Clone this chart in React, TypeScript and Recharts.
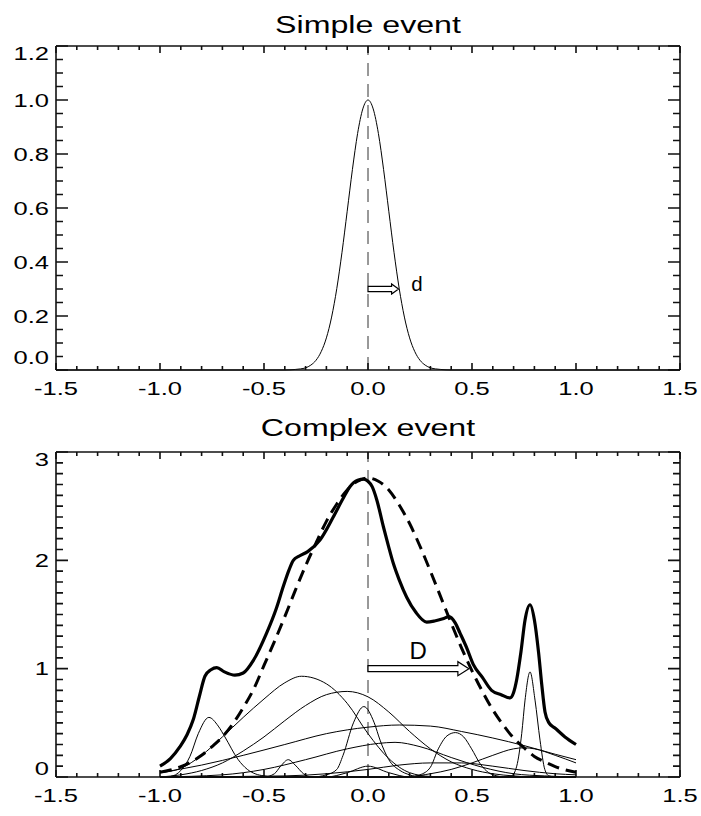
import React from 'react';
import { LineChart, Line, XAxis, YAxis, ReferenceLine, ReferenceDot, Label } from 'recharts';

const FONT = '"Liberation Sans", Arial, Helvetica, sans-serif';
const STRETCH = 1.38; // the original plot was stretched sideways, glyphs included
const INK = '#111';

// ---- shared axis ticks
const xMajor = [-1.5, -1.0, -0.5, 0.0, 0.5, 1.0, 1.5];
const simpleYMajor = [0.0, 0.2, 0.4, 0.6, 0.8, 1.0, 1.2];
const complexYMajor = [0, 1, 2, 3];

// ---- Simple event
const simpleX = [
  -1.5, -0.4, -0.35, -0.325, -0.3, -0.275, -0.25, -0.225, -0.2, -0.175, -0.15, -0.125, -0.1, -0.075, -0.05, -0.025,
  0, 0.025, 0.05, 0.075, 0.1, 0.125, 0.15, 0.175, 0.2, 0.225, 0.25, 0.275, 0.3, 0.325, 0.35, 0.4, 1.5,
];
const simpleY = [
  0, 0, 0.002, 0.004, 0.008, 0.018, 0.036, 0.068, 0.119, 0.196, 0.302, 0.436, 0.588, 0.742, 0.876, 0.967,
  1.0, 0.967, 0.876, 0.742, 0.588, 0.436, 0.302, 0.196, 0.119, 0.068, 0.036, 0.018, 0.008, 0.004, 0.002, 0, 0,
];
const simpleArrow = [{ x: 0, y: 0.3 }, { x: 0.147, y: 0.3 }];
const simpleNote = { x: 0.235, y: 0.32, text: 'd' };

// ---- Complex event
const sumCurve: [number, number][] = [
  [-1.0, 0.1], [-0.95, 0.17], [-0.904, 0.28], [-0.87, 0.39], [-0.84, 0.53], [-0.81, 0.75], [-0.784, 0.93],
  [-0.755, 0.99], [-0.727, 1.01], [-0.69, 0.97], [-0.64, 0.94], [-0.6, 0.96], [-0.55, 1.08], [-0.487, 1.33],
  [-0.44, 1.56], [-0.407, 1.76], [-0.38, 1.91], [-0.359, 2.0], [-0.33, 2.04], [-0.29, 2.08], [-0.23, 2.19],
  [-0.167, 2.4], [-0.12, 2.57], [-0.087, 2.68], [-0.05, 2.74], [-0.02, 2.75], [0.0, 2.73], [0.02, 2.68],
  [0.042, 2.56], [0.074, 2.31], [0.1, 2.12], [0.122, 1.97], [0.15, 1.82], [0.186, 1.66], [0.23, 1.52],
  [0.282, 1.43], [0.32, 1.44], [0.36, 1.46], [0.39, 1.48], [0.42, 1.42], [0.442, 1.33], [0.475, 1.19],
  [0.506, 1.04], [0.55, 0.92], [0.594, 0.8], [0.64, 0.76], [0.683, 0.73], [0.7, 0.78], [0.715, 0.9],
  [0.735, 1.15], [0.755, 1.45], [0.779, 1.59], [0.8, 1.45], [0.82, 1.15], [0.835, 0.86], [0.851, 0.6],
  [0.87, 0.5], [0.9, 0.45], [0.947, 0.37], [1.0, 0.3],
];
const fitCurve: [number, number][] = [
  [-1.0, 0.044], [-0.95, 0.065], [-0.9, 0.096], [-0.85, 0.14], [-0.8, 0.2], [-0.75, 0.28], [-0.7, 0.37],
  [-0.65, 0.49], [-0.6, 0.64], [-0.55, 0.81], [-0.5, 1.03], [-0.45, 1.25], [-0.4, 1.48], [-0.35, 1.72],
  [-0.3, 1.95], [-0.25, 2.16], [-0.2, 2.36], [-0.15, 2.52], [-0.1, 2.65], [-0.05, 2.73], [0.0, 2.76],
  [0.05, 2.73], [0.1, 2.65], [0.15, 2.51], [0.2, 2.34], [0.25, 2.13], [0.3, 1.9], [0.35, 1.66], [0.4, 1.42],
  [0.45, 1.19], [0.5, 0.98], [0.55, 0.79], [0.6, 0.62], [0.65, 0.48], [0.7, 0.36], [0.75, 0.27], [0.8, 0.19],
  [0.85, 0.14], [0.9, 0.096], [0.95, 0.065], [1.0, 0.044],
];
const peakA: [number, number][] = [
  [-1, 0], [-0.95, 0.005], [-0.9, 0.06], [-0.856, 0.19], [-0.816, 0.4], [-0.765, 0.55], [-0.72, 0.47],
  [-0.688, 0.37], [-0.624, 0.16], [-0.58, 0.07], [-0.543, 0.03], [-0.5, 0.01], [-0.45, 0], [1, 0],
];
const bumpB: [number, number][] = [
  [-1, 0.04], [-0.9, 0.08], [-0.8, 0.2], [-0.7, 0.37], [-0.6, 0.55], [-0.5, 0.72], [-0.4, 0.87], [-0.32, 0.93],
  [-0.2, 0.86], [-0.1, 0.68], [0, 0.4], [0.1, 0.17], [0.2, 0.04], [0.3, 0.005], [0.4, 0], [1, 0],
];
const bumpC: [number, number][] = [
  [-1, 0], [-0.9, 0.02], [-0.8, 0.06], [-0.7, 0.13], [-0.6, 0.24], [-0.5, 0.37], [-0.4, 0.52], [-0.3, 0.66],
  [-0.2, 0.76], [-0.1, 0.79], [0, 0.74], [0.1, 0.6], [0.2, 0.42], [0.3, 0.26], [0.4, 0.14], [0.5, 0.07],
  [0.6, 0.03], [0.7, 0.01], [0.8, 0], [1, 0],
];
const wideD: [number, number][] = [
  [-1, 0.04], [-0.8, 0.11], [-0.6, 0.2], [-0.4, 0.3], [-0.2, 0.4], [0, 0.46], [0.15, 0.48], [0.3, 0.47],
  [0.45, 0.42], [0.6, 0.36], [0.75, 0.29], [0.9, 0.21], [1, 0.16],
];
const bumpE: [number, number][] = [
  [-1, 0], [0.1, 0], [0.2, 0.005], [0.3, 0.03], [0.4, 0.07], [0.5, 0.13], [0.6, 0.2], [0.7, 0.26],
  [0.75, 0.27], [0.8, 0.26], [0.9, 0.2], [1, 0.13],
];
const peakF: [number, number][] = [
  [-1, 0], [-0.27, 0], [-0.2, 0.02], [-0.15, 0.07], [-0.12, 0.2], [-0.07, 0.5], [-0.02, 0.65], [0.03, 0.5],
  [0.058, 0.34], [0.1, 0.16], [0.154, 0.06], [0.2, 0.02], [0.25, 0], [1, 0],
];
const bumpG: [number, number][] = [
  [-1, 0], [-0.7, 0.02], [-0.5, 0.07], [-0.3, 0.16], [-0.1, 0.26], [0.05, 0.31], [0.13, 0.32], [0.25, 0.28],
  [0.4, 0.18], [0.55, 0.09], [0.7, 0.03], [0.85, 0.01], [1, 0],
];
const smallH: [number, number][] = [[-1, 0], [-0.2, 0], [-0.1, 0.04], [0, 0.1], [0.1, 0.04], [0.2, 0], [1, 0]];
const peakI: [number, number][] = [
  [-1, 0], [0.2, 0], [0.25, 0.02], [0.3, 0.09], [0.338, 0.26], [0.38, 0.38], [0.42, 0.41], [0.46, 0.37],
  [0.498, 0.26], [0.54, 0.12], [0.58, 0.04], [0.62, 0.01], [0.66, 0], [1, 0],
];
const peakJ: [number, number][] = [
  [-1, 0], [0.66, 0], [0.69, 0.01], [0.715, 0.1], [0.739, 0.4], [0.755, 0.71], [0.779, 0.97], [0.803, 0.71],
  [0.827, 0.34], [0.85, 0.07], [0.87, 0.01], [0.9, 0], [1, 0],
];
const smallK: [number, number][] = [
  [-1, 0], [-0.5, 0], [-0.45, 0.03], [-0.42, 0.1], [-0.383, 0.16], [-0.35, 0.11], [-0.31, 0.03], [-0.27, 0], [1, 0],
];
const lowL: [number, number][] = [
  [-1, 0], [-0.4, 0.01], [-0.2, 0.03], [0, 0.07], [0.15, 0.11], [0.3, 0.13], [0.45, 0.13], [0.6, 0.1],
  [0.75, 0.06], [0.9, 0.03], [1, 0.02],
];
const components = [peakA, bumpB, bumpC, wideD, bumpE, peakF, bumpG, smallH, peakI, peakJ, smallK, lowL];
const complexArrow = [{ x: 0, y: 1.0 }, { x: 0.485, y: 1.0 }];
const complexNote = { x: 0.241, y: 1.17, text: 'D' };

const rows = (pts: [number, number][]) => pts.map(([x, y]) => ({ x, y }));
const simpleRows = simpleX.map((x, i) => ({ x, y: simpleY[i] }));

// minor ticks between the labelled ones
const subdivide = (majors: number[], n: number) => {
  const out: number[] = [];
  for (let i = 0; i < majors.length - 1; i++) {
    const step = (majors[i + 1] - majors[i]) / n;
    for (let k = 0; k < n; k++) out.push(Math.round((majors[i] + k * step) * 1000) / 1000);
  }
  out.push(majors[majors.length - 1]);
  return out;
};
const xTicks = subdivide(xMajor, 5);
const simpleYTicks = subdivide(simpleYMajor, 4);
const complexYTicks = subdivide(complexYMajor, 10);

const isMajorOf = (majors: number[], v: number) => majors.some((m) => Math.abs(m - v) < 1e-6);

// inward tick marks as broken line series (a null y ends each mark)
// pxX / pxY: pixels per data unit of the panel, so the marks get a fixed pixel length
const tickRows = (
  yMajor: number[], yTicks: number[], pxX: number, pxY: number,
) => {
  const y0 = yMajor[0];
  const y1 = yMajor[yMajor.length - 1];
  const bottom: any[] = [];
  const top: any[] = [];
  const left: any[] = [];
  const right: any[] = [];
  xTicks.forEach((v) => {
    const l = (isMajorOf(xMajor, v) ? 7 : 4) / pxY;
    bottom.push({ x: v, y: y0 }, { x: v, y: y0 + l }, { x: v, y: null });
    top.push({ x: v, y: y1 }, { x: v, y: y1 - l }, { x: v, y: null });
  });
  yTicks.forEach((v) => {
    const l = (isMajorOf(yMajor, v) ? 12 : 7) / pxX;
    left.push({ x: -1.5, y: v }, { x: -1.5 + l, y: v }, { x: -1.5 + l, y: null });
    right.push({ x: 1.5, y: v }, { x: 1.5 - l, y: v }, { x: 1.5 - l, y: null });
  });
  return [bottom, top, left, right];
};

const tickLines = (sets: any[][]) =>
  sets.map((d, i) => (
    <Line key={`ticks${i}`} data={d} dataKey="y" type="linear" dot={false} stroke={INK} strokeWidth={1.6}
      connectNulls={false} isAnimationActive={false} />
  ));

type Side = 'left' | 'bottom';

const renderLabel = (props: any, side: Side, majors: number[], digits: number, lowShift = 0, highShift = 0) => {
  const x = Number(props.x);
  const y = Number(props.y);
  const v = props.payload.value as number;
  if (!isMajorOf(majors, v)) return <g />;
  const txt = v.toFixed(digits);
  if (side === 'bottom') {
    return (
      <text transform={`translate(${x},${y + 25}) scale(${STRETCH},1)`} textAnchor="middle"
        fontSize={18.5} fontFamily={FONT} fill="#000">{txt}</text>
    );
  }
  let dy = 0;
  if (Math.abs(v - majors[0]) < 1e-6) dy = lowShift;
  if (Math.abs(v - majors[majors.length - 1]) < 1e-6) dy = highShift;
  return (
    <text transform={`translate(${x - 7},${y + dy + 6.7}) scale(${STRETCH},1)`} textAnchor="end"
      fontSize={18.5} fontFamily={FONT} fill="#000">{txt}</text>
  );
};

const titleContent = (title: string, lift: number) => (props: any) => {
  const vb = props.viewBox || {};
  return (
    <text transform={`translate(${vb.x + vb.width / 2},${vb.y + vb.height - lift}) scale(${STRETCH},1)`}
      textAnchor="middle" fontSize={23.3} fontFamily={FONT} fill="#000">{title}</text>
  );
};

const HollowArrow = (p: any) => {
  const { x1, y1, x2, shaft, head, headLen } = p;
  const hx = x2 - headLen;
  const pts = [
    [x1, y1 - shaft], [hx, y1 - shaft], [hx, y1 - head], [x2, y1], [hx, y1 + head], [hx, y1 + shaft], [x1, y1 + shaft],
  ].map((q) => q.join(',')).join(' ');
  return <polygon points={pts} fill="#fff" stroke="#000" strokeWidth={1.2} />;
};

const axisLine = { stroke: INK, strokeWidth: 1.6 };

// plot area is 624 px wide; 324 px (top) and 325 px (bottom) tall
const simpleTicks = tickRows(simpleYMajor, simpleYTicks, 624 / 3, 324 / 1.2);
const complexTicks = tickRows(complexYMajor, complexYTicks, 624 / 3, 325 / 3);

export default function App() {
  return (
    <div style={{ position: 'absolute', left: 0, top: 0, width: 701, height: 816, background: '#fff' }}>
      <div style={{ position: 'absolute', left: 0, top: 0 }}>
        <LineChart width={701} height={400} margin={{ top: 45, right: 20, bottom: 0, left: 16 }}>
          <XAxis dataKey="x" type="number" domain={[-1.5, 1.5]} ticks={xTicks} interval={0} height={30}
            tickSize={0} tickMargin={0} tickLine={false} axisLine={axisLine}
            tick={(p: any) => renderLabel(p, 'bottom', xMajor, 1)} />
          <XAxis xAxisId="top" orientation="top" type="number" domain={[-1.5, 1.5]} ticks={xTicks} interval={0}
            height={1} tickSize={0} tickMargin={0} tickLine={false} axisLine={axisLine} tick={false}>
            <Label content={titleContent('Simple event', 13)} />
          </XAxis>
          <YAxis type="number" domain={[0, 1.2]} ticks={simpleYTicks} interval={0} width={40}
            tickSize={0} tickMargin={0} tickLine={false} axisLine={axisLine}
            tick={(p: any) => renderLabel(p, 'left', simpleYMajor, 1, -13, 7)} />
          <YAxis yAxisId="right" orientation="right" type="number" domain={[0, 1.2]} ticks={simpleYTicks}
            width={1} tickSize={0} tickMargin={0} tickLine={false} axisLine={axisLine} tick={false} />
          <ReferenceLine x={0} stroke="#333" strokeWidth={1} strokeDasharray="13 8" />
          {tickLines(simpleTicks)}
          <Line data={simpleRows} dataKey="y" type="monotone" dot={false} stroke="#000" strokeWidth={1}
            isAnimationActive={false} />
          <ReferenceLine segment={simpleArrow}
            shape={(p: any) => <HollowArrow {...p} shaft={2.7} head={5} headLen={7} />} />
          <ReferenceDot x={simpleNote.x} y={simpleNote.y} r={0}
            shape={(p: any) => (
              <text x={p.cx} y={p.cy + 7} textAnchor="middle" fontSize={20.5} fontFamily={FONT} fill="#000">
                {simpleNote.text}
              </text>
            )} />
        </LineChart>
      </div>
      <div style={{ position: 'absolute', left: 0, top: 400 }}>
        <LineChart width={701} height={407} margin={{ top: 51, right: 20, bottom: 0, left: 16 }}>
          <XAxis dataKey="x" type="number" domain={[-1.5, 1.5]} ticks={xTicks} interval={0} height={30}
            tickSize={0} tickMargin={0} tickLine={false} axisLine={axisLine}
            tick={(p: any) => renderLabel(p, 'bottom', xMajor, 1)} />
          <XAxis xAxisId="top" orientation="top" type="number" domain={[-1.5, 1.5]} ticks={xTicks} interval={0}
            height={1} tickSize={0} tickMargin={0} tickLine={false} axisLine={axisLine} tick={false}>
            <Label content={titleContent('Complex event', 16)} />
          </XAxis>
          <YAxis type="number" domain={[0, 3]} ticks={complexYTicks} interval={0} width={40}
            tickSize={0} tickMargin={0} tickLine={false} axisLine={axisLine}
            tick={(p: any) => renderLabel(p, 'left', complexYMajor, 0, -9, 7)} />
          <YAxis yAxisId="right" orientation="right" type="number" domain={[0, 3]} ticks={complexYTicks}
            width={1} tickSize={0} tickMargin={0} tickLine={false} axisLine={axisLine} tick={false} />
          <ReferenceLine x={0} stroke="#333" strokeWidth={1} strokeDasharray="13 8" />
          {tickLines(complexTicks)}
          {components.map((c, i) => (
            <Line key={i} data={rows(c)} dataKey="y" type="monotone" dot={false} stroke="#000" strokeWidth={1}
              isAnimationActive={false} />
          ))}
          <Line data={rows(fitCurve)} dataKey="y" type="monotone" dot={false} stroke="#000" strokeWidth={3}
            strokeDasharray="12 7" isAnimationActive={false} />
          <Line data={rows(sumCurve)} dataKey="y" type="monotone" dot={false} stroke="#000" strokeWidth={3.2}
            isAnimationActive={false} />
          <ReferenceLine segment={complexArrow}
            shape={(p: any) => <HollowArrow {...p} shaft={3} head={7} headLen={11} />} />
          <ReferenceDot x={complexNote.x} y={complexNote.y} r={0}
            shape={(p: any) => (
              <text x={p.cx} y={p.cy + 9} textAnchor="middle" fontSize={24} fontFamily={FONT} fill="#000">
                {complexNote.text}
              </text>
            )} />
        </LineChart>
      </div>
    </div>
  );
}
